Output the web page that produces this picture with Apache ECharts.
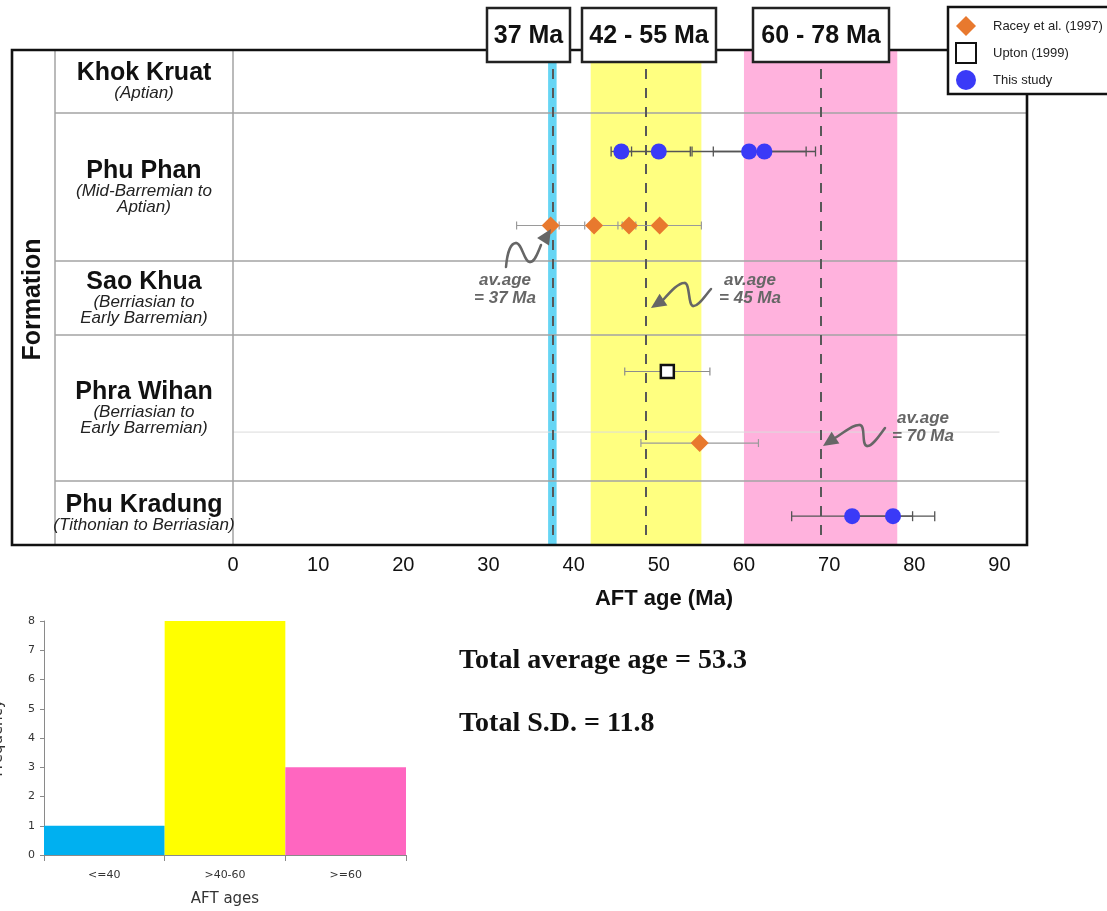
<!DOCTYPE html>
<html>
<head>
<meta charset="utf-8">
<script src="https://cdn.jsdelivr.net/npm/echarts@6/dist/echarts.min.js"></script>
<style>
  html, body { margin: 0; padding: 0; background: #fff; }
  #chart { width: 1107px; height: 911px; }
</style>
</head>
<body>
<div id="chart"></div>
<script>
// Formations, top to bottom, with their stratigraphic ages
const formations = ['Khok Kruat', 'Phu Phan', 'Sao Khua', 'Phra Wihan', 'Phu Kradung'];
const formationAges = ['(Aptian)', '(Mid-Barremian to\nAptian)', '(Berriasian to\nEarly Barremian)',
                       '(Berriasian to\nEarly Barremian)', '(Tithonian to Berriasian)'];

// AFT ages (Ma) and their errors, per source
const raceyFormation = ['Phu Phan', 'Phu Phan', 'Phu Phan', 'Phu Phan', 'Phra Wihan'];
const raceyAge = [37.3, 42.4, 46.5, 50.1, 54.8];
const raceyErr = [4.0, 4.1, 0.8, 4.9, 6.9];

const uptonFormation = ['Phra Wihan'];
const uptonAge = [51.0];
const uptonErr = [5.0];

const studyFormation = ['Phu Phan', 'Phu Phan', 'Phu Phan', 'Phu Phan', 'Phu Kradung', 'Phu Kradung'];
const studyAge = [45.6, 50.0, 60.6, 62.4, 72.7, 77.5];
const studyErr = [1.2, 3.7, 6.7, 6.0, 7.1, 4.9];

// Age groups (Ma) and the group average ages
const groupLabels = ['37 Ma', '42 - 55 Ma', '60 - 78 Ma'];
const groupMin = [37, 42, 60];
const groupMax = [38, 55, 78];
const averageAges = [37, 45, 70];

// x-axis ticks
const ageTicks = [0, 10, 20, 30, 40, 50, 60, 70, 80, 90];

// Histogram of AFT ages
const histCategories = ['<=40', '>40-60', '>=60'];
const histCounts = [1, 8, 3];

// Summary statistics
const totalAverage = 53.3;
const totalSD = 11.8;

// ---- styling / layout ----
const FONT = 'Liberation Sans, Arial, sans-serif';
const bandColors = ['#66d5f4', '#ffff80', '#ffb2dd'];
const histColors = ['#00b0f0', '#ffff00', '#ff66c0'];
const rowHeights = [63, 148, 74, 146, 64];
const rowTops = [];
let depth = 0;
rowHeights.forEach(h => { rowTops.push(depth); depth += h; });
const tracks = {
  'Phu Phan': { study: 0.26, racey: 0.76 },
  'Phra Wihan': { upton: 0.25, racey: 0.74 },
  'Phu Kradung': { study: 0.55 }
};
function trackY(formation, source) {
  const i = formations.indexOf(formation);
  return rowTops[i] + rowHeights[i] * tracks[formation][source];
}
const raceyData = raceyAge.map((a, i) => [a, trackY(raceyFormation[i], 'racey'), raceyErr[i]]);
const uptonData = uptonAge.map((a, i) => [a, trackY(uptonFormation[i], 'upton'), uptonErr[i]]);
const studyData = studyAge.map((a, i) => [a, trackY(studyFormation[i], 'study'), studyErr[i]]);

function errorBars(capHalf, width) {
  return function (params, api) {
    const x = api.value(0), y = api.value(1), e = api.value(2);
    const lo = api.coord([x - e, y]);
    const hi = api.coord([x + e, y]);
    const style = { stroke: api.visual('color'), lineWidth: width };
    return {
      type: 'group',
      children: [
        { type: 'line', shape: { x1: lo[0], y1: lo[1], x2: hi[0], y2: hi[1] }, style },
        { type: 'line', shape: { x1: lo[0], y1: lo[1] - capHalf, x2: lo[0], y2: lo[1] + capHalf }, style },
        { type: 'line', shape: { x1: hi[0], y1: hi[1] - capHalf, x2: hi[0], y2: hi[1] + capHalf }, style }
      ]
    };
  };
}

const chart = echarts.init(document.getElementById('chart'));

chart.setOption({
  animation: false,
  backgroundColor: '#fff',
  textStyle: { fontFamily: FONT },
  grid: [
    { left: 233, top: 50, width: 792, height: depth, containLabel: false, outerBoundsMode: 'none' },
    { left: 44, top: 621, width: 362, height: 234, containLabel: false, outerBoundsMode: 'none' }
  ],
  xAxis: [
    {
      type: 'value', gridIndex: 0, min: 0, max: 93, interval: 10,
      axisLine: { show: false }, axisTick: { show: false }, splitLine: { show: false },
      axisLabel: {
        fontSize: 20, color: '#111', margin: 10, showMaxLabel: false, fontFamily: FONT,
        formatter: v => (ageTicks.indexOf(v) >= 0 ? String(v) : '')
      }
    },
    {
      type: 'category', gridIndex: 1, data: histCategories,
      axisLine: { lineStyle: { color: '#8a8a8a', width: 1 } },
      axisTick: { show: true, length: 6, lineStyle: { color: '#8a8a8a' } },
      axisLabel: { fontSize: 11, color: '#333', margin: 15, fontFamily: 'DejaVu Sans' },
      name: 'AFT ages', nameLocation: 'middle', nameGap: 37,
      nameTextStyle: { fontSize: 15, color: '#333', fontFamily: 'DejaVu Sans' }
    }
  ],
  yAxis: [
    { type: 'value', gridIndex: 0, min: 0, max: depth, inverse: true, show: false },
    {
      type: 'value', gridIndex: 1, min: 0, max: 8, interval: 1,
      axisLine: { show: true, lineStyle: { color: '#8a8a8a', width: 1 } },
      axisTick: { show: true, length: 4, lineStyle: { color: '#8a8a8a' } },
      splitLine: { show: false },
      axisLabel: { fontSize: 11, color: '#333', margin: 9, fontFamily: 'DejaVu Sans' },
      name: 'Frequency', nameLocation: 'middle', nameGap: 38, nameRotate: 90,
      nameTextStyle: { fontSize: 15, color: '#333', fontFamily: 'DejaVu Sans' }
    }
  ],
  legend: {
    data: ['Racey et al. (1997)', 'Upton (1999)', 'This study'],
    orient: 'vertical', left: 948, top: 7, z: 20,
    selectedMode: false,
    itemWidth: 20, itemHeight: 20, itemGap: 6,
    padding: [9, 40, 4, 7],
    backgroundColor: '#fff', borderColor: '#111', borderWidth: 2.5, borderRadius: 0,
    textStyle: { fontSize: 13, color: '#222', fontFamily: FONT, padding: [0, 0, 0, 12] }
  },
  series: [
    {
      // age-group bands
      type: 'scatter', xAxisIndex: 0, yAxisIndex: 0, data: [], silent: true,
      markArea: {
        silent: true, z: 1,
        data: groupMin.map((m, i) => [
          { xAxis: m, itemStyle: { color: bandColors[i] } },
          { xAxis: groupMax[i] }
        ])
      }
    },
    {
      // group mid-lines
      type: 'scatter', xAxisIndex: 0, yAxisIndex: 0, data: [], silent: true,
      markLine: {
        silent: true, z: 3, symbol: ['none', 'none'], label: { show: false },
        lineStyle: { color: '#585858', width: 2, type: [10, 9] },
        data: groupMin.map((m, i) => ({ xAxis: (m + groupMax[i]) / 2 }))
      }
    },
    {
      type: 'custom', name: 'racey-err', xAxisIndex: 0, yAxisIndex: 0, z: 4, silent: true,
      itemStyle: { color: '#9a9a9a' }, renderItem: errorBars(4, 1.2), data: raceyData
    },
    {
      type: 'custom', name: 'upton-err', xAxisIndex: 0, yAxisIndex: 0, z: 4, silent: true,
      itemStyle: { color: '#8c8c8c' }, renderItem: errorBars(4, 1.2), data: uptonData
    },
    {
      type: 'custom', name: 'study-err', xAxisIndex: 0, yAxisIndex: 0, z: 4, silent: true,
      itemStyle: { color: '#555' }, renderItem: errorBars(5, 1.3), data: studyData
    },
    {
      type: 'scatter', name: 'Racey et al. (1997)', xAxisIndex: 0, yAxisIndex: 0, z: 6,
      symbol: 'diamond', symbolSize: 18, itemStyle: { color: '#e8792e', opacity: 1 },
      data: raceyData
    },
    {
      type: 'scatter', name: 'Upton (1999)', xAxisIndex: 0, yAxisIndex: 0, z: 6,
      symbol: 'rect', symbolSize: 13,
      itemStyle: { color: '#fff', borderColor: '#111', borderWidth: 2.5, opacity: 1 },
      data: uptonData
    },
    {
      type: 'scatter', name: 'This study', xAxisIndex: 0, yAxisIndex: 0, z: 6,
      symbol: 'circle', symbolSize: 16, itemStyle: { color: '#3a3af7', opacity: 1 },
      data: studyData
    },
    {
      type: 'bar', xAxisIndex: 1, yAxisIndex: 1, barCategoryGap: '0%', silent: true,
      data: histCounts.map((v, i) => ({ value: v, itemStyle: { color: histColors[i] } }))
    }
  ]
});

// ---- table frame, labels and annotations ----
const px = (x, y) => chart.convertToPixel({ gridIndex: 0 }, [x, y]);
const frameTop = px(0, 0)[1];
const frameBottom = px(0, depth)[1];
const frameLeft = 12, nameColLeft = 55, plotLeft = px(0, 0)[0], frameRight = 1027;
const gray = '#a3a3a3';
const graphics = [];

// row separators
for (let i = 1; i < formations.length; i++) {
  const y = px(0, rowTops[i])[1];
  graphics.push({ type: 'line', z: 2, silent: true,
    shape: { x1: nameColLeft, y1: y, x2: frameRight, y2: y },
    style: { stroke: gray, lineWidth: 1.5 } });
}
// faint divider within Phra Wihan
{
  const i = formations.indexOf('Phra Wihan');
  const y = px(0, rowTops[i] + rowHeights[i] * 0.665)[1];
  graphics.push({ type: 'line', z: 2, silent: true,
    shape: { x1: plotLeft, y1: y, x2: px(90, 0)[0], y2: y },
    style: { stroke: '#dcdcdc', lineWidth: 1 } });
}
// column separators
[nameColLeft, plotLeft].forEach(x => graphics.push({ type: 'line', z: 2, silent: true,
  shape: { x1: x, y1: frameTop, x2: x, y2: frameBottom },
  style: { stroke: gray, lineWidth: 1.5 } }));
// outer frame
graphics.push({ type: 'rect', z: 10, silent: true,
  shape: { x: frameLeft, y: frameTop, width: frameRight - frameLeft, height: frameBottom - frameTop },
  style: { fill: null, stroke: '#111', lineWidth: 2.6 } });

// formation names
formations.forEach((name, i) => {
  const yMid = px(0, rowTops[i] + rowHeights[i] / 2)[1];
  graphics.push({ type: 'text', z: 11, silent: true,
    x: (nameColLeft + plotLeft) / 2, y: yMid,
    style: {
      text: '{n|' + name + '}\n' + formationAges[i].split('\n').map(s => '{s|' + s + '}').join('\n'),
      align: 'center', verticalAlign: 'middle',
      rich: {
        n: { fontFamily: FONT, fontWeight: 'bold', fontSize: 25, lineHeight: 24, fill: '#111', align: 'center' },
        s: { fontFamily: FONT, fontStyle: 'italic', fontSize: 17, lineHeight: 16, fill: '#222', align: 'center' }
      }
    } });
});
graphics.push({ type: 'text', z: 11, silent: true, x: 33, y: (frameTop + frameBottom) / 2 + 2,
  rotation: Math.PI / 2,
  style: { text: 'Formation', align: 'center', verticalAlign: 'middle',
    font: 'bold 25px ' + FONT, fill: '#111' } });

// group label boxes along the top
const boxSpans = [[487, 570], [582, 716], [753, 889]];
groupLabels.forEach((t, i) => {
  const [x0, x1] = boxSpans[i];
  graphics.push({ type: 'rect', z: 12, silent: true,
    shape: { x: x0, y: 8, width: x1 - x0, height: 54 },
    style: { fill: '#fff', stroke: '#222', lineWidth: 2.5 } });
  graphics.push({ type: 'text', z: 13, silent: true, x: (x0 + x1) / 2, y: 36,
    style: { text: t, align: 'center', verticalAlign: 'middle',
      font: 'bold 25px ' + FONT, fill: '#111' } });
});

// x-axis title
graphics.push({ type: 'text', z: 11, silent: true, x: 664, y: 599,
  style: { text: 'AFT age (Ma)', align: 'center', verticalAlign: 'middle',
    font: 'bold 22px ' + FONT, fill: '#111' } });

// average-age call-outs with squiggly arrows (each curve: start, then cubic segments)
function arrowHead(tip, from, len, half) {
  const dx = tip[0] - from[0], dy = tip[1] - from[1];
  const d = Math.hypot(dx, dy), ux = dx / d, uy = dy / d;
  const bx = tip[0] - ux * len, by = tip[1] - uy * len;
  return [tip, [bx - uy * half, by + ux * half], [bx + uy * half, by - ux * half]];
}
const callouts = [
  { text: [505, 289], start: [506, 267],
    segs: [[507, 255, 510, 243, 516, 243], [522, 243, 524, 262, 530, 262], [535, 262, 538, 252, 541, 245]],
    tip: [551, 229] },
  { text: [750, 289], start: [711, 289],
    segs: [[704, 297, 698, 307, 693, 306], [688, 305, 690, 284, 685, 283], [679, 282, 671, 291, 663, 300]],
    tip: [651, 308] },
  { text: [923, 427], start: [885, 428],
    segs: [[879, 436, 872, 447, 867, 446], [861, 445, 866, 426, 860, 425], [853, 424, 845, 432, 835, 438]],
    tip: [823, 446] }
];
callouts.forEach((c, i) => {
  graphics.push({ type: 'text', z: 7, silent: true, x: c.text[0], y: c.text[1],
    style: { text: 'av.age\n= ' + averageAges[i] + ' Ma', align: 'center', verticalAlign: 'middle',
      font: 'italic bold 17px ' + FONT, fill: '#666', lineHeight: 18 } });
  let p = c.start;
  c.segs.forEach(s => {
    graphics.push({ type: 'bezierCurve', z: 7, silent: true,
      shape: { x1: p[0], y1: p[1], cpx1: s[0], cpy1: s[1], cpx2: s[2], cpy2: s[3], x2: s[4], y2: s[5] },
      style: { fill: null, stroke: '#666', lineWidth: 2.5, lineCap: 'round' } });
    p = [s[4], s[5]];
  });
  graphics.push({ type: 'polygon', z: 7, silent: true,
    shape: { points: arrowHead(c.tip, p, 15, 7) }, style: { fill: '#666' } });
});

// summary statistics
graphics.push({ type: 'text', z: 11, silent: true, x: 459, y: 661,
  style: { text: 'Total average age = ' + totalAverage.toFixed(1), verticalAlign: 'middle',
    font: 'bold 28px Liberation Serif, Times New Roman, serif', fill: '#111' } });
graphics.push({ type: 'text', z: 11, silent: true, x: 459, y: 724,
  style: { text: 'Total S.D. = ' + totalSD.toFixed(1), verticalAlign: 'middle',
    font: 'bold 28px Liberation Serif, Times New Roman, serif', fill: '#111' } });

chart.setOption({ graphic: graphics });
</script>
</body>
</html>
